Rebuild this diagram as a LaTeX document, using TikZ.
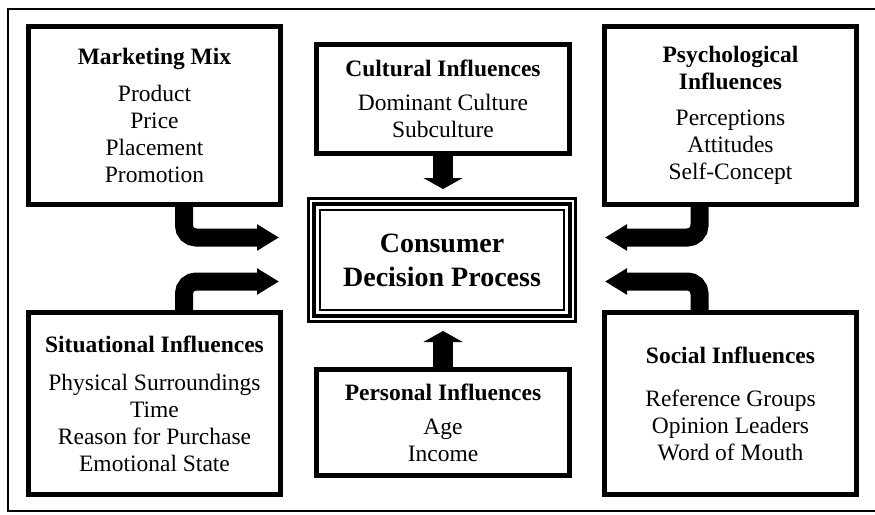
\documentclass[tikz,border=0pt]{standalone}
\usepackage{fontspec}
\setmainfont{Liberation Serif}
\usetikzlibrary{arrows.meta}
\begin{document}
\begin{tikzpicture}[x=1pt,y=-1pt,
  box/.style={draw, line width=5pt, minimum width=252pt, align=center, inner sep=0pt, outer sep=0pt, font=\fontsize{23.5}{27}\selectfont},
  sidearrow/.style={line width=18pt, rounded corners=12pt, -{Triangle[width=25pt,length=22pt]}},
  vertarrow/.style={line width=20pt, -{Triangle[width=39pt,length=11pt]}},
  outerframe/.style={line width=2pt}]
\useasboundingbox (0,0) rectangle (875,514);
\draw[outerframe] (878,9) -- (8,9) -- (8,511) -- (878,511);

\node[box, minimum height=178pt] (mm) at (154.5,115.5)
  {\textbf{Marketing Mix}\\[10pt]Product\\Price\\Placement\\Promotion};
\node[box, minimum height=182pt] (sit) at (154.5,403.5)
  {\textbf{Situational Influences}\\[11pt]Physical Surroundings\\Time\\Reason for Purchase\\Emotional State};
\node[box, minimum height=178pt] (psy) at (730.5,115.5)
  {\textbf{Psychological}\\\textbf{Influences}\\[9pt]Perceptions\\Attitudes\\Self-Concept};
\node[box, minimum height=182pt] (soc) at (730.5,403.5)
  {\textbf{Social Influences}\\[16pt]Reference Groups\\Opinion Leaders\\Word of Mouth};
\node[box, minimum width=253pt, minimum height=109pt] (cul) at (443,99)
  {\textbf{Cultural Influences}\\[7pt]Dominant Culture\\Subculture};
\node[box, minimum width=253pt, minimum height=106pt] (per) at (443,422.5)
  {\textbf{Personal Influences}\\[7pt]Age\\Income};

\node[draw, line width=4pt, minimum width=256pt, minimum height=112pt, inner sep=0pt, outer sep=0pt, align=center,
  font=\fontsize{28}{34}\selectfont\bfseries] (cdp) at (442,260) {Consumer\\Decision Process};
\draw[line width=3pt] ([xshift=-5.5pt,yshift=5.5pt]cdp.north west) rectangle ([xshift=5.5pt,yshift=-5.5pt]cdp.south east);
\draw[line width=2pt] ([xshift=6pt,yshift=-6pt]cdp.north west) rectangle ([xshift=-6pt,yshift=6pt]cdp.south east);

\draw[vertarrow] (cul.south) -- ([xshift=1pt,yshift=15pt]cdp.north);
\draw[vertarrow] (per.north) -- ([xshift=1pt,yshift=-15pt]cdp.south);

\draw[sidearrow] ([xshift=29.5pt]mm.south) |- ([xshift=-35pt,yshift=22.5pt]cdp.west);
\draw[sidearrow] ([xshift=29.5pt]sit.north) |- ([xshift=-35pt,yshift=-21.5pt]cdp.west);
\draw[sidearrow] ([xshift=-31pt]psy.south) |- ([xshift=35pt,yshift=22.5pt]cdp.east);
\draw[sidearrow] ([xshift=-31pt]soc.north) |- ([xshift=35pt,yshift=-21.5pt]cdp.east);
\end{tikzpicture}
\end{document}
